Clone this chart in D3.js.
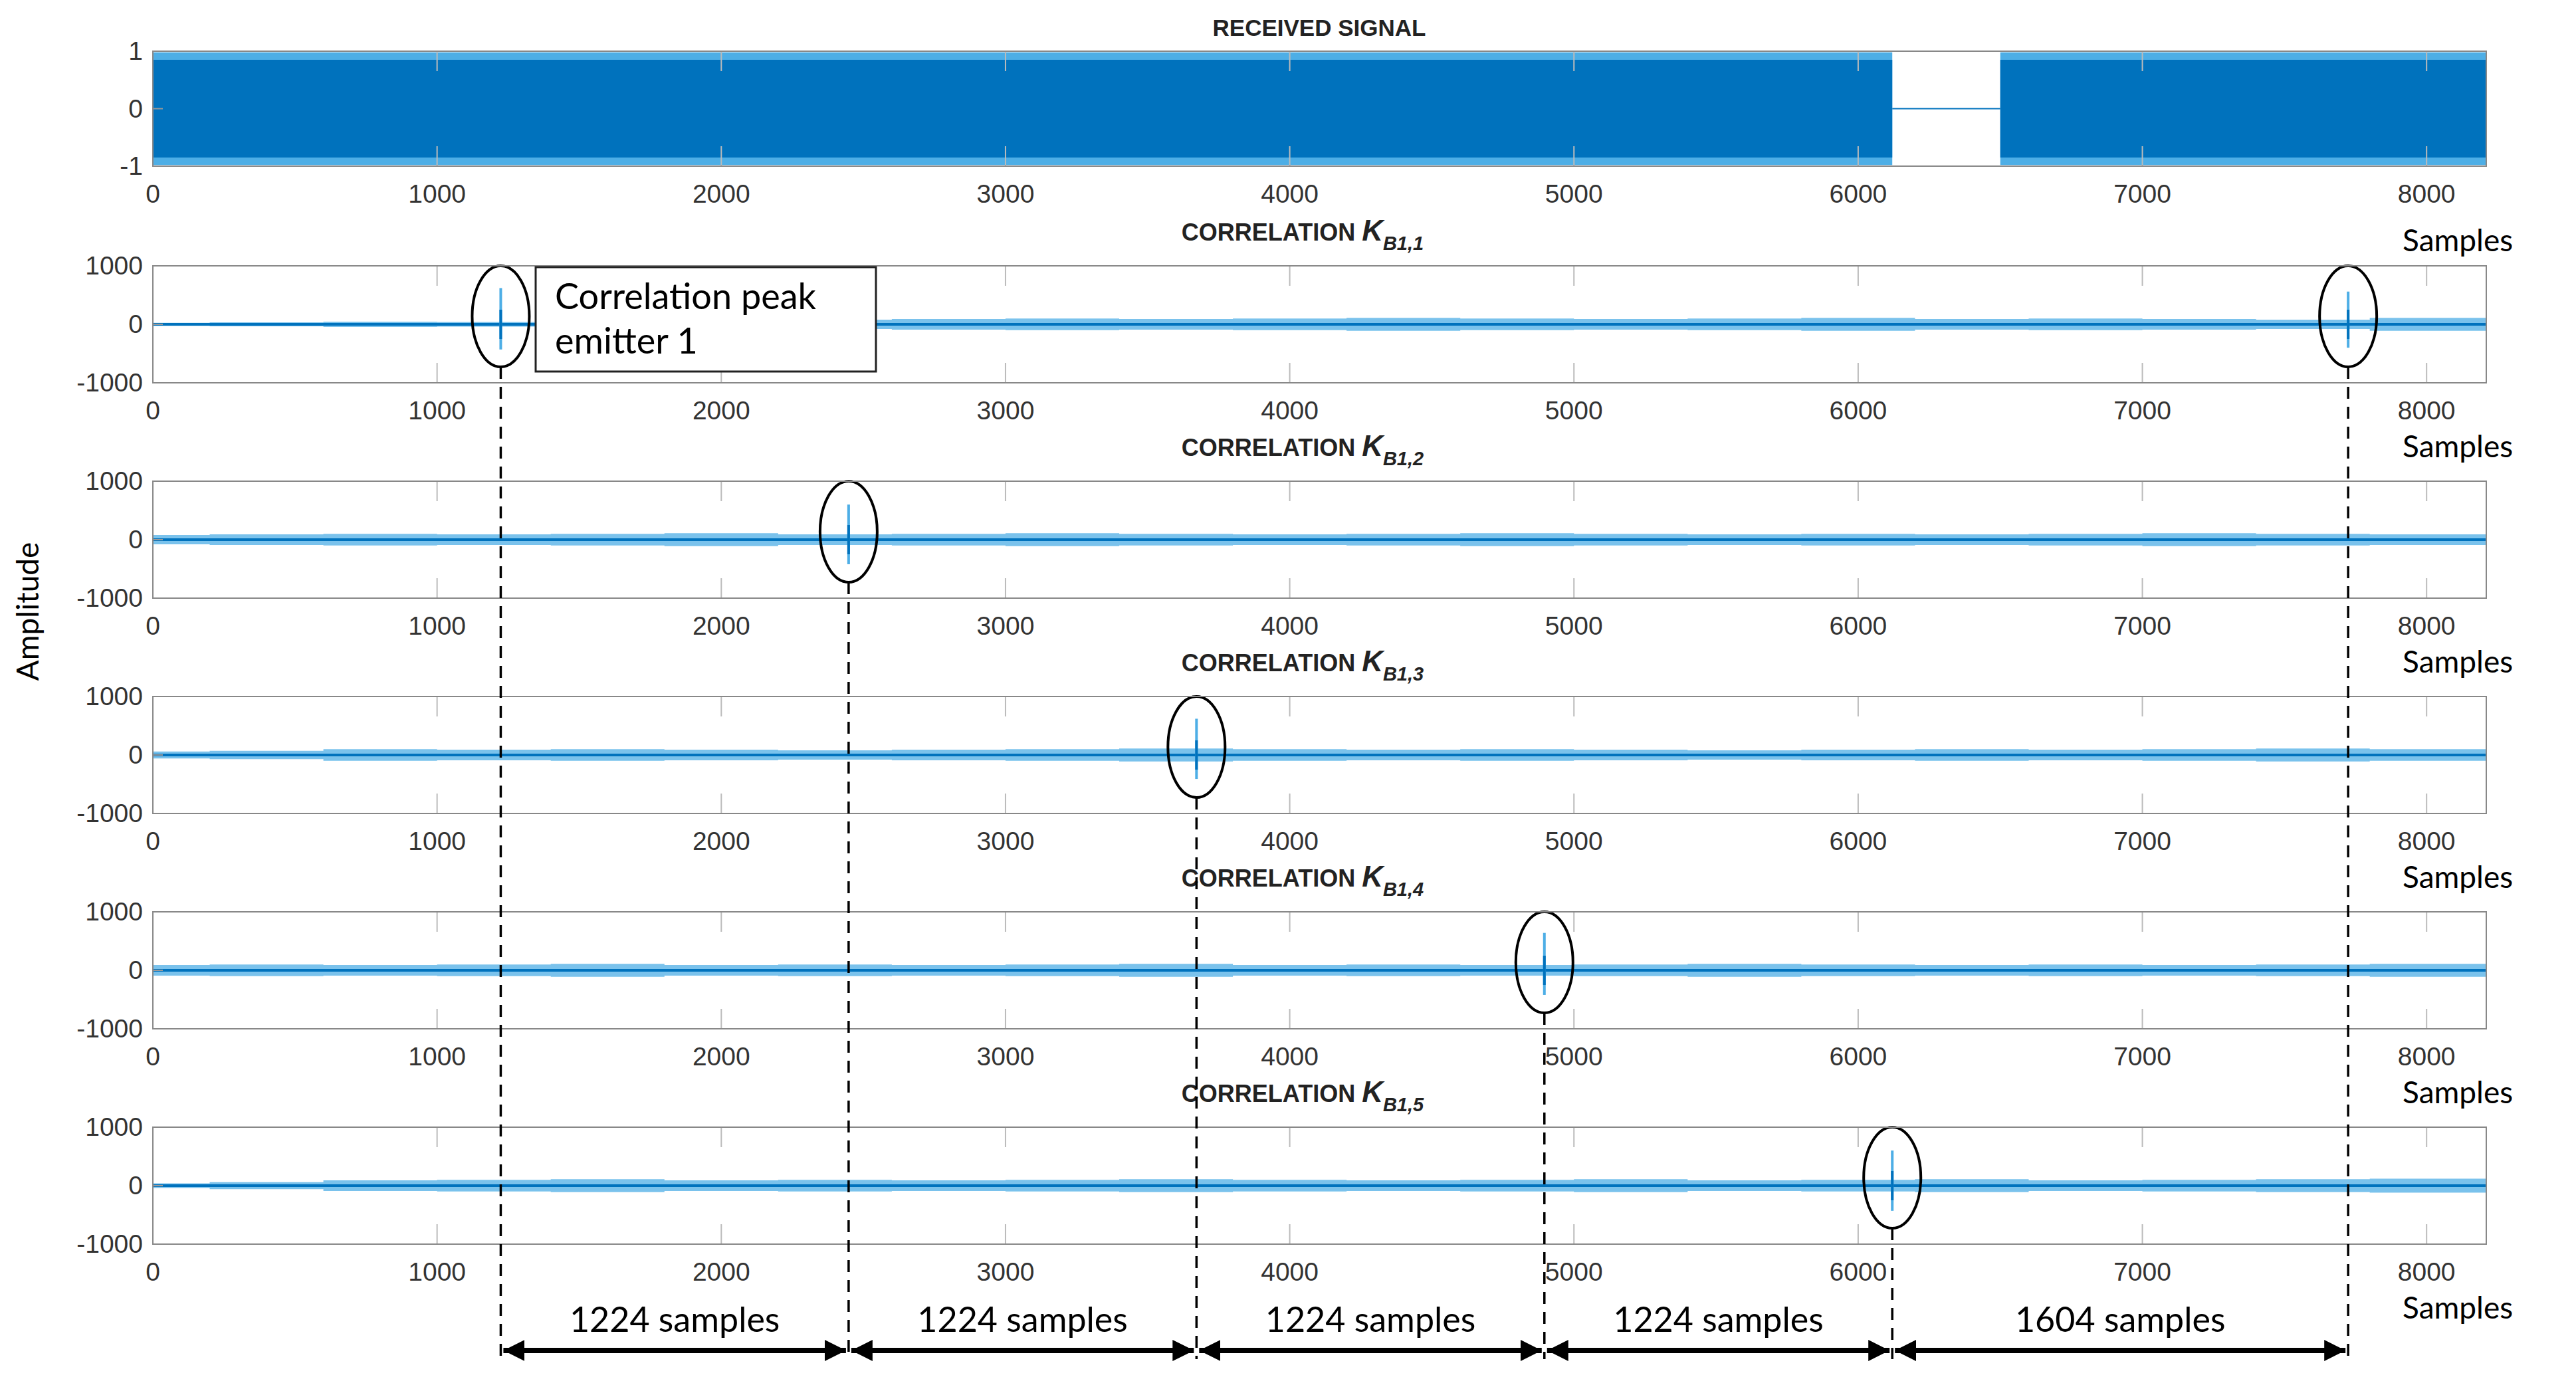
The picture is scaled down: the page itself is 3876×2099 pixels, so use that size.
<!DOCTYPE html>
<html><head><meta charset="utf-8">
<script src="https://cdn.jsdelivr.net/npm/d3@7"></script>
<style>body{margin:0;background:#fff}</style>
</head><body>
<script>
// canvas
var width = 3876, height = 2099

// data
const xTicks = [0,1000,2000,3000,4000,5000,6000,7000,8000]
const signalSegments = [[0,6120],[6500,8210]]   // where the received signal is on
const signalGap = [6120,6500]                      // flat zero there
const peakPos = [1224,2448,3672,4896,6120]         // correlation peak per emitter
const extraPeak = 7724                             // second peak in K_B1,1
const peakHi = [620,600,620,640,600]
const peakLo = [-430,-420,-410,-420,-430]
// rough noise envelope of each correlation, one value every 400 samples (last one at 8210)
const noiseEnv = [
  [25,35,45,40,60,50,80,90,100,90,100,110,100,90,100,110,90,100,90,80,110,110],
  [80,90,100,90,100,110,90,100,110,100,90,100,110,100,90,100,90,100,110,100,90,90],
  [60,70,100,90,100,90,80,90,100,110,100,90,100,90,80,90,100,90,100,110,100,100],
  [90,100,90,100,110,90,100,90,100,110,90,100,90,100,110,100,90,100,90,100,110,110],
  [40,60,90,100,110,90,100,90,100,110,100,90,100,110,90,100,110,90,100,110,120,120]
]
const gaps = [1224,1224,1224,1224,1604]

const BLUE = "#0072BD", LIGHT = "#4DAEE6"
const FONT = "Liberation Sans, Arial, sans-serif"
const GOTH = "Lato, 'DejaVu Sans', sans-serif"

const svg = d3.select("body").append("svg").attr("width", width).attr("height", height)
const x = d3.scaleLinear().domain([0,8210]).range([230,3741])

function frame(top, h, y, yTicks, yFmt){
  const g = svg.append("g")
  // inside ticks like matlab
  xTicks.forEach(t => {
    g.append("line").attr("x1",x(t)).attr("x2",x(t)).attr("y1",top).attr("y2",top+30).attr("stroke","#bbb").attr("stroke-width",2)
    g.append("line").attr("x1",x(t)).attr("x2",x(t)).attr("y1",top+h).attr("y2",top+h-30).attr("stroke","#bbb").attr("stroke-width",2)
    g.append("text").attr("x",x(t)).attr("y",top+h+55).attr("text-anchor","middle")
      .attr("font-family",FONT).attr("font-size",39).attr("fill","#333").text(t)
  })
  yTicks.forEach(t => {
    g.append("line").attr("x1",230).attr("x2",245).attr("y1",y(t)).attr("y2",y(t)).attr("stroke","#999").attr("stroke-width",2)
    g.append("text").attr("x",215).attr("y",y(t)+13).attr("text-anchor","end")
      .attr("font-family",FONT).attr("font-size",39).attr("fill","#333").text(yFmt(t))
  })
  return g
}

// ---------- received signal ----------
var y0 = d3.scaleLinear().domain([-1,1]).range([250,77])
svg.append("text").attr("x",1985).attr("y",54).attr("text-anchor","middle")
  .attr("font-family",FONT).attr("font-weight","bold").attr("font-size",35).attr("fill","#222").text("RECEIVED SIGNAL")
signalSegments.forEach(s => {
  svg.append("rect").attr("x",x(s[0])).attr("width",x(s[1])-x(s[0]))
    .attr("y",y0(0.98)).attr("height",y0(-0.98)-y0(0.98)).attr("fill",LIGHT)
  svg.append("rect").attr("x",x(s[0])).attr("width",x(s[1])-x(s[0]))
    .attr("y",y0(0.85)).attr("height",y0(-0.85)-y0(0.85)).attr("fill",BLUE)
})
svg.append("line").attr("x1",x(signalGap[0])).attr("x2",x(signalGap[1]))
  .attr("y1",y0(0)).attr("y2",y0(0)).attr("stroke",BLUE).attr("stroke-width",2)
frame(77,173,y0,[-1,0,1],d=>d)
svg.append("rect").attr("x",230).attr("y",77).attr("width",3511).attr("height",173).attr("fill","none").attr("stroke","#888").attr("stroke-width",2)
svg.append("text").attr("x",3615).attr("y",378).attr("font-family",GOTH).attr("font-size",46).text("Samples")

// ---------- correlation panels ----------
const tops = [400,724,1048,1372,1696]
const PH = 176
const ellipseBottoms = []
tops.forEach((top,i) => {
  const y = d3.scaleLinear().domain([-1000,1000]).range([top+PH, top])
  const t = svg.append("text").attr("x",1960).attr("y",top-38).attr("text-anchor","middle")
    .attr("font-family",FONT).attr("font-weight","bold").attr("font-size",36).attr("fill","#222")
  t.append("tspan").text("CORRELATION  ")
  t.append("tspan").attr("font-style","italic").attr("font-size",44).text("K")
  t.append("tspan").attr("font-style","italic").attr("font-size",29).attr("dy",14).text("B1,"+(i+1))

  // noise band
  const env = noiseEnv[i].map((v,k)=>[Math.min(k*400,8210), v])
  const area = d3.area().x(d=>x(d[0])).y0(d=>y(-d[1])).y1(d=>y(d[1])).curve(d3.curveStep)
  svg.append("path").datum(env).attr("d",area).attr("fill",LIGHT).attr("opacity",0.75)
  svg.append("line").attr("x1",x(0)).attr("x2",x(8210)).attr("y1",y(0)).attr("y2",y(0)).attr("stroke",BLUE).attr("stroke-width",4)

  const peaks = [[peakPos[i],peakHi[i],peakLo[i]]]
  if(i==0) peaks.push([extraPeak,560,-400])
  peaks.forEach(p => {
    svg.append("line").attr("x1",x(p[0])).attr("x2",x(p[0])).attr("y1",y(p[1])).attr("y2",y(p[2])).attr("stroke",LIGHT).attr("stroke-width",4)
    svg.append("line").attr("x1",x(p[0])).attr("x2",x(p[0])).attr("y1",y(250)).attr("y2",y(-250)).attr("stroke",BLUE).attr("stroke-width",4)
    svg.append("ellipse").attr("cx",x(p[0])).attr("cy",y(0)-12).attr("rx",43).attr("ry",76)
      .attr("fill","none").attr("stroke","#000").attr("stroke-width",4)
    ellipseBottoms.push([p[0], y(0)-12+76])
  })
  frame(top,PH,y,[-1000,0,1000],d=>d)
  svg.append("rect").attr("x",230).attr("y",top).attr("width",3511).attr("height",PH).attr("fill","none").attr("stroke","#888").attr("stroke-width",2)
  svg.append("text").attr("x",3615).attr("y",top+PH+112).attr("font-family",GOTH).attr("font-size",46).text("Samples")
})

// annotation box
svg.append("rect").attr("x",806).attr("y",402).attr("width",512).attr("height",157).attr("fill","#fff").attr("stroke","#222").attr("stroke-width",3)
svg.append("text").attr("x",835).attr("y",465).attr("font-family",GOTH).attr("font-size",54).text("Correlation peak")
svg.append("text").attr("x",835).attr("y",532).attr("font-family",GOTH).attr("font-size",54).text("emitter 1")

// amplitude label
svg.append("text").attr("transform","translate(58,920) rotate(-90)").attr("text-anchor","middle")
  .attr("font-family",GOTH).attr("font-size",46).text("Amplitude")

// dashed guides and arrows
const ARROW_Y = 2032
ellipseBottoms.forEach(e => {
  svg.append("line").attr("x1",x(e[0])).attr("x2",x(e[0])).attr("y1",e[1]).attr("y2",2045)
    .attr("stroke","#000").attr("stroke-width",3.5).attr("stroke-dasharray","18,12")
})
svg.append("defs").append("marker").attr("id","ah").attr("viewBox","0 0 10 10").attr("refX",10).attr("refY",5)
  .attr("markerWidth",4).attr("markerHeight",4).attr("orient","auto-start-reverse")
  .append("path").attr("d","M0,0L10,5L0,10z").attr("fill","#000")
let start = peakPos[0]
gaps.forEach(gp => {
  const end = start + gp
  svg.append("line").attr("x1",x(start)+4).attr("x2",x(end)-4).attr("y1",ARROW_Y).attr("y2",ARROW_Y)
    .attr("stroke","#000").attr("stroke-width",8).attr("marker-start","url(#ah)").attr("marker-end","url(#ah)")
  svg.append("text").attr("x",(x(start)+x(end))/2).attr("y",ARROW_Y-28).attr("text-anchor","middle")
    .attr("font-family",GOTH).attr("font-size",52).text(gp+" samples")
  start = end
})
</script>
</body></html>
